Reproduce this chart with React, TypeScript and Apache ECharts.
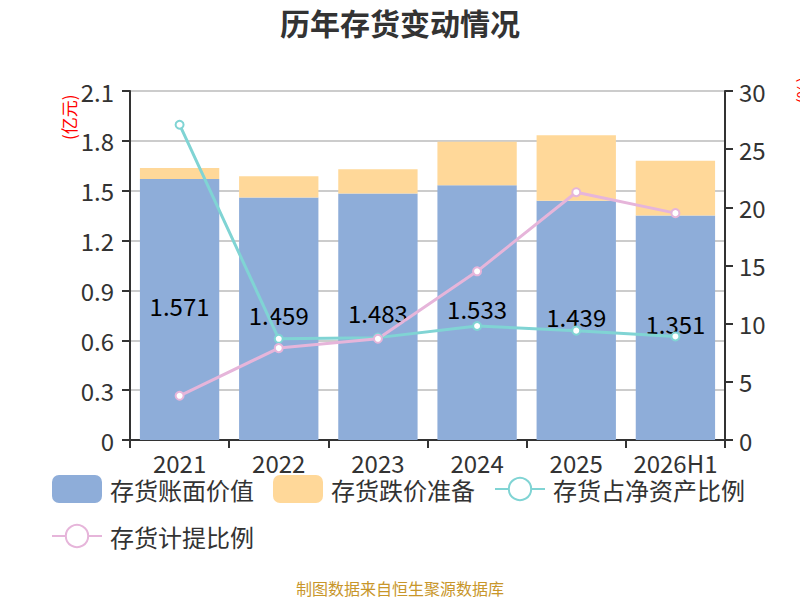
import React, { useEffect, useRef } from "react";
import * as echarts from "echarts";

const categories = ["2021", "2022", "2023", "2024", "2025", "2026H1"];
const bookValue = [1.571, 1.459, 1.483, 1.533, 1.439, 1.351];
const reserve = [0.066, 0.128, 0.146, 0.262, 0.394, 0.33];
const netAssetRatio = [27.1, 8.7, 8.8, 9.8, 9.4, 8.9];
const provisionRatio = [3.8, 7.9, 8.7, 14.5, 21.3, 19.5];
const leftTicks = { min: 0, max: 2.1, interval: 0.3 };
const rightTicks = { min: 0, max: 30, interval: 5 };

export default function App() {
  const ref = useRef<HTMLDivElement>(null);
  useEffect(() => {
    if (!ref.current) return;
    const chart = echarts.init(ref.current, undefined, { renderer: "svg" });
    const font = "'Noto Sans CJK SC', 'Noto Sans', sans-serif";
    chart.setOption({
      animation: false,
      textStyle: { fontFamily: font },
      title: {
        text: "历年存货变动情况",
        left: "center",
        top: 2,
        textStyle: { fontSize: 30, fontWeight: "bold", color: "#333", fontFamily: font },
      },
      grid: { left: 130, right: 75, top: 91, bottom: 160 },
      legend: {
        left: 46,
        top: 470,
        width: 720,
        itemWidth: 50,
        itemHeight: 28,
        itemGap: 19,
        textStyle: { fontSize: 24, color: "#333", fontFamily: font, padding: [0, 0, 0, 3] },
        data: [
          { name: "存货账面价值", icon: "roundRect" },
          { name: "存货跌价准备", icon: "roundRect" },
          "存货占净资产比例",
          "存货计提比例",
        ],
      },
      xAxis: {
        type: "category",
        data: categories,
        axisLine: { lineStyle: { color: "#333", width: 2 } },
        axisTick: { show: true, length: 8, lineStyle: { color: "#333", width: 2 } },
        axisLabel: { fontSize: 24, color: "#333", margin: 10, interval: 0 },
      },
      yAxis: [
        {
          type: "value",
          ...leftTicks,
          axisLine: { show: true, lineStyle: { color: "#333", width: 2 } },
          axisTick: { show: true, length: 8, lineStyle: { color: "#333", width: 2 } },
          axisLabel: { fontSize: 24, color: "#333", margin: 16 },
          splitLine: { lineStyle: { color: "#ccc", width: 2 } },
        },
        {
          type: "value",
          ...rightTicks,
          axisLine: { show: true, lineStyle: { color: "#333", width: 2 } },
          axisTick: { show: true, length: 8, lineStyle: { color: "#333", width: 2 } },
          axisLabel: { fontSize: 24, color: "#333", margin: 14 },
          splitLine: { show: false },
        },
      ],
      graphic: [
        {
          type: "text",
          x: 60,
          y: 140,
          rotation: Math.PI / 2,
          style: { text: "(亿元)", fill: "#ff0000", fontSize: 17, fontFamily: font },
        },
        {
          type: "text",
          x: 794,
          y: 104,
          rotation: Math.PI / 2,
          style: { text: "(%)", fill: "#ff0000", fontSize: 17, fontFamily: font },
        },
        {
          type: "text",
          left: "center",
          top: 580,
          style: { text: "制图数据来自恒生聚源数据库", fill: "#c8962a", fontSize: 16, fontFamily: font },
        },
      ],
      series: [
        {
          name: "存货账面价值",
          type: "bar",
          stack: "inv",
          data: bookValue,
          barWidth: "80%",
          itemStyle: { color: "#8eadd9" },
          label: {
            show: true,
            position: "inside",
            offset: [0, -4],
            fontSize: 24,
            color: "#000",
            formatter: (p: any) => p.value.toFixed(3),
          },
        },
        {
          name: "存货跌价准备",
          type: "bar",
          stack: "inv",
          data: reserve,
          itemStyle: { color: "#ffd899" },
        },
        {
          name: "存货占净资产比例",
          type: "line",
          yAxisIndex: 1,
          data: netAssetRatio,
          symbol: "emptyCircle",
          symbolSize: 8,
          lineStyle: { color: "#80d4d4", width: 3 },
          itemStyle: { color: "#80d4d4", borderWidth: 2 },
        },
        {
          name: "存货计提比例",
          type: "line",
          yAxisIndex: 1,
          data: provisionRatio,
          symbol: "emptyCircle",
          symbolSize: 8,
          lineStyle: { color: "#e6b5da", width: 3 },
          itemStyle: { color: "#e6b5da", borderWidth: 2 },
        },
      ],
    });
    return () => chart.dispose();
  }, []);
  return (
    <div
      ref={ref}
      style={{ position: "absolute", left: 0, top: 0, width: 800, height: 600 }}
    />
  );
}
